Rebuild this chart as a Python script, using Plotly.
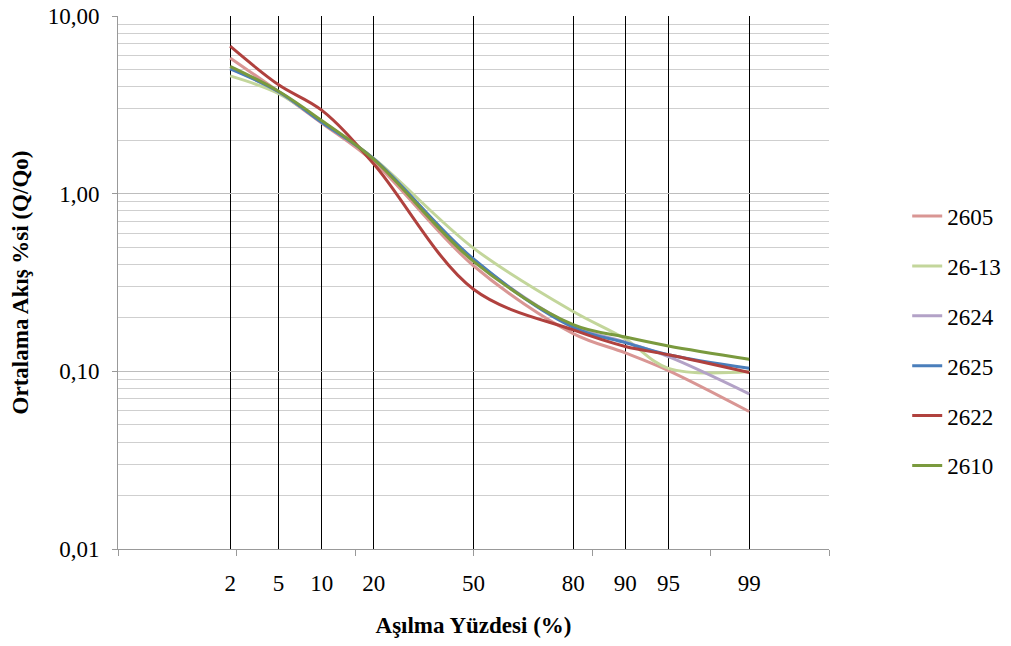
import plotly.graph_objects as go
from statistics import NormalDist

# Exceedance percentages (x categories)
percents = [2, 5, 10, 20, 50, 80, 90, 95, 99]
pct_labels = ["2", "5", "10", "20", "50", "80", "90", "95", "99"]

# Series values (Q/Qo)
s2605 = [5.81, 3.75, 2.50, 1.51, 0.393, 0.163, 0.127, 0.101, 0.0594]
s2613 = [4.60, 3.66, 2.55, 1.58, 0.494, 0.217, 0.152, 0.104, 0.0998]
s2624 = [5.10, 3.74, 2.53, 1.57, 0.425, 0.180, 0.146, 0.121, 0.0747]
s2625 = [5.04, 3.75, 2.52, 1.57, 0.429, 0.177, 0.145, 0.124, 0.104]
s2622 = [6.76, 4.10, 2.95, 1.47, 0.290, 0.171, 0.138, 0.124, 0.0985]
s2610 = [5.21, 3.77, 2.58, 1.56, 0.416, 0.183, 0.156, 0.139, 0.117]

series_names = ["2605", "26-13", "2624", "2625", "2622", "2610"]
series_vals = [s2605, s2613, s2624, s2625, s2622, s2610]
colors = ["#D99694", "#C3D69B", "#B3A2C7", "#4A7EBB", "#B0413E", "#7A9A3E"]

# y ticks
y_ticks = [0.01, 0.1, 1, 10]
y_labels = ["0,01", "0,10", "1,00", "10,00"]

nd = NormalDist()
xz = [nd.inv_cdf(p / 100.0) for p in percents]

minor_y = [m * 10 ** e for e in (-2, -1, 0) for m in range(2, 10)]

font_family = "Liberation Serif, DejaVu Serif, serif"
FS = 23

fig = go.Figure()
for i, (name, vals, col) in enumerate(zip(series_names, series_vals, colors)):
    fig.add_trace(go.Scatter(
        x=xz, y=vals, name=name, mode="lines",
        line=dict(color=col, width=3, shape="spline", smoothing=1.0),
        legendgroup=name,
    ))

fig.update_layout(
    width=1011, height=646,
    margin=dict(l=118, r=182, t=16, b=97, autoexpand=False),
    paper_bgcolor="white", plot_bgcolor="white",
    font=dict(family=font_family, size=FS, color="black"),
    showlegend=True,
    legend=dict(
        x=1.11, xanchor="left", y=0.665, yanchor="top",
        font=dict(family=font_family, size=FS, color="black"),
        tracegroupgap=17, bgcolor="rgba(0,0,0,0)",
    ),
    xaxis=dict(
        range=[-3, 3], automargin=False,
        tickmode="array", tickvals=xz, ticktext=pct_labels,
        ticks="", ticklabelstandoff=13, ticklabeloverflow="allow",
        showgrid=True, gridcolor="black", gridwidth=1,
        zeroline=False,
        showline=True, linecolor="#999999", linewidth=1,
        minor=dict(tickmode="array", tickvals=[-3, -2, -1, 0, 1, 2, 3],
                   ticks="outside", ticklen=6, tickcolor="#999999",
                   showgrid=False),
        title=dict(text="<b>Aşılma Yüzdesi (%)</b>",
                   font=dict(family=font_family, size=FS), standoff=22),
        tickfont=dict(family=font_family, size=FS),
    ),
    yaxis=dict(
        type="log", range=[-2, 1], automargin=False,
        tickmode="array", tickvals=y_ticks, ticktext=y_labels,
        ticks="outside", ticklen=5, tickcolor="#999999",
        ticklabelstandoff=8, ticklabeloverflow="allow",
        showgrid=True, gridcolor="#BDBDBD", gridwidth=1,
        zeroline=False,
        showline=True, linecolor="#999999", linewidth=1,
        minor=dict(tickmode="array", tickvals=minor_y, ticks="",
                   showgrid=True, gridcolor="#CFCFCF", gridwidth=1),
        title=dict(text="<b>Ortalama Akış %si (Q/Qo)</b>",
                   font=dict(family=font_family, size=FS), standoff=12),
        tickfont=dict(family=font_family, size=FS),
    ),
)

fig.write_html(
    "out.html",
    config={"displayModeBar": False},
    post_script="document.body.style.margin='0px';document.body.style.overflow='hidden';",
)
